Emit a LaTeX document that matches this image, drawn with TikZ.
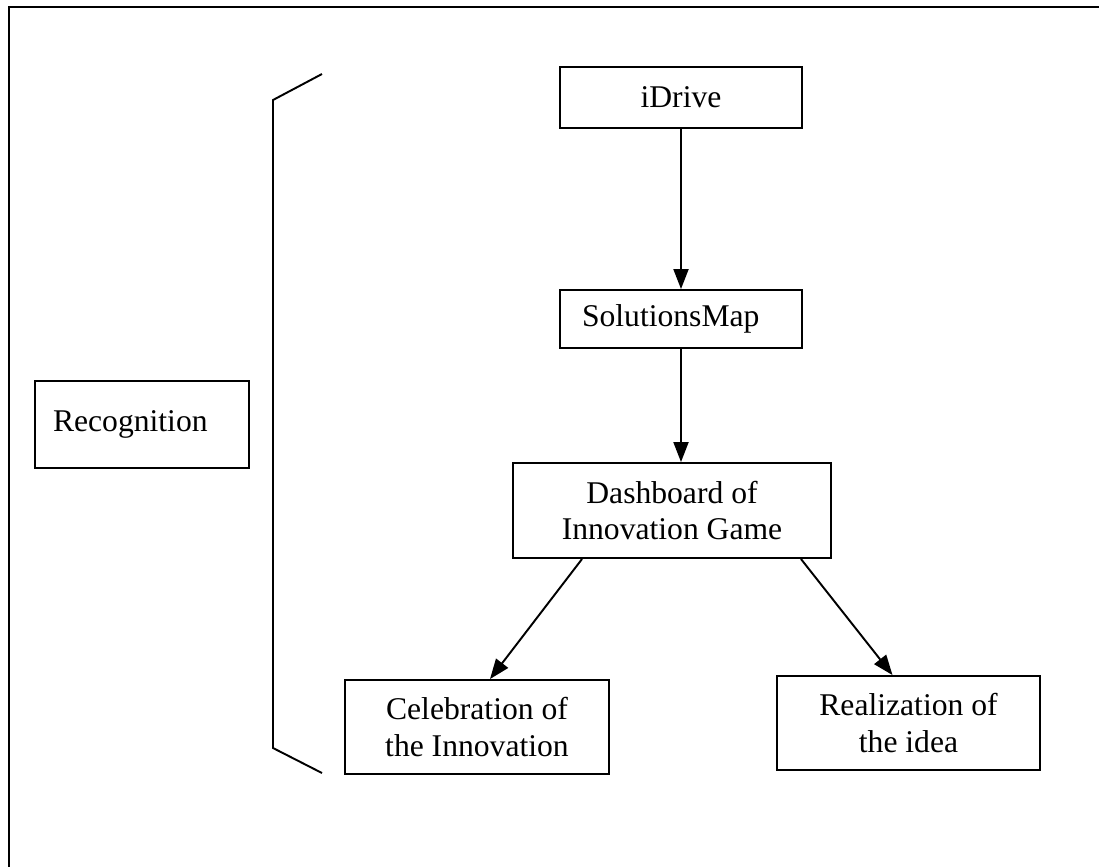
\documentclass[tikz,border=0pt]{standalone}
\usepackage{fontspec}
\setmainfont{Liberation Serif}
\usetikzlibrary{arrows.meta}

\begin{document}
\begin{tikzpicture}[x=0.02cm,y=-0.02cm,line width=1.1pt,
    box/.style={draw,line width=1.1pt,align=center,inner sep=0pt,
        font=\fontsize{18}{20.5}\selectfont},
    arr/.style={-{Triangle[length=0.4cm,width=0.3cm]},line width=1.1pt}]
                \useasboundingbox (0,0) rectangle (1099,867);
                \draw (1099,7)--(9,7)--(9,867);
                % left bracket
                \draw (322,74)--(273,100)--(273,748)--(322,773);
                \node[box,minimum width=4.28cm,minimum height=1.74cm,text width=3.56cm,align=left] (recog) at (142,424.5) {Recognition};
                \node[box,minimum width=4.84cm,minimum height=1.22cm] (idrive) at (681,97.5) {iDrive};
                \node[box,minimum width=4.84cm,minimum height=1.16cm,text width=3.96cm,align=left] (sol) at (681,319) {SolutionsMap};
                \node[box,minimum width=6.36cm,minimum height=1.9cm] (dash) at (672,510.5) {Dashboard of\\Innovation Game};
                \node[box,minimum width=5.28cm,minimum height=1.88cm] (celeb) at (477,727) {Celebration of\\the Innovation};
                \node[box,minimum width=5.26cm,minimum height=1.88cm] (real) at (908.5,723) {Realization of\\the idea};
                \draw[arr] (idrive)--(sol);
                \draw[arr] (sol.south)--([xshift=0.18cm]dash.north);
                \draw[arr] ([xshift=1.4cm]dash.south west)--([xshift=0.26cm]celeb.north);
                \draw[arr] ([xshift=-0.62cm]dash.south east)--([xshift=-0.32cm]real.north);
            \end{tikzpicture}
\end{document}
